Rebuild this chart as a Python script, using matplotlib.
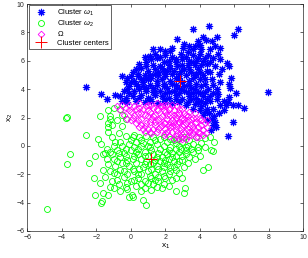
import matplotlib
matplotlib.use("Agg")
import numpy as np
import matplotlib.pyplot as plt

plt.rcParams['font.family'] = ['Liberation Sans', 'DejaVu Sans']
plt.rcParams['mathtext.fontset'] = 'custom'
plt.rcParams['mathtext.rm'] = 'Liberation Sans'
plt.rcParams['mathtext.it'] = 'Liberation Sans:italic'

# points
omega1 = [
    (-2.6, 4.15), (-1.7, 3.65), (-1.4, 3.3), (-0.9, 3.6), (-0.5, 4.9), (-0.6, 3.5), (-0.3, 3.4),
    (0.0, 4.5), (-0.2, 4.0), (0.2, 3.9), (0.8, 6.3), (1.1, 6.35), (1.3, 6.8), (1.7, 6.85),
    (2.7, 7.55), (3.6, 8.25), (4.55, 8.45), (6.2, 8.25), (6.0, 7.8), (4.2, 7.7), (4.35, 7.45),
    (3.4, 7.05), (3.05, 6.9), (3.75, 7.05), (4.0, 7.1), (4.9, 7.05), (5.2, 6.9), (4.6, 6.8),
    (5.05, 6.5), (5.15, 6.15), (5.6, 5.85), (5.7, 5.65), (5.8, 4.8), (5.7, 4.4), (5.75, 4.1),
    (6.1, 3.75), (5.7, 3.45), (5.65, 3.1), (5.55, 2.85), (5.95, 2.9), (6.25, 2.9), (6.6, 2.7),
    (7.95, 3.8), (5.95, 1.65), (5.65, 0.7),
    (5.0, 4.0), (5.05, 3.65), (5.2, 2.85), (5.4, 2.55), (4.85, 2.1), (4.9, 1.7), (4.75, 1.45),
    (4.65, 1.15), (4.55, 2.35), (4.4, 2.6), (4.3, 3.0), (4.6, 3.2), (5.0, 3.3), (4.8, 2.6),
    (4.95, 1.3), (4.45, 1.8), (4.2, 2.2), (4.1, 2.8), (3.9, 3.1), (3.7, 2.95), (4.75, 3.7),
    (4.5, 4.0), (4.3, 4.4), (4.7, 4.7), (5.1, 5.1), (5.3, 5.4), (4.9, 5.6), (4.6, 5.9),
    (4.3, 6.2), (4.0, 6.5), (3.8, 6.0), (4.1, 5.7), (4.4, 5.3),
    (1.5, 6.2), (2.0, 6.4), (2.4, 6.3), (2.9, 6.5), (3.3, 6.6), (3.6, 6.4), (1.9, 5.9),
    (0.5, 5.8), (0.9, 5.9), (1.3, 5.7), (1.7, 5.6), (2.2, 6.0), (2.6, 5.9), (3.0, 6.1),
    (3.4, 6.0), (3.7, 5.7), (0.3, 5.4),
    (0.1, 5.2), (0.6, 5.5), (1.0, 5.3), (1.4, 5.4), (1.9, 5.3), (2.3, 5.5), (2.7, 5.6),
    (3.1, 5.4), (3.5, 5.2), (3.9, 5.4), (4.2, 5.0),
    (-0.2, 4.8), (0.4, 4.9), (0.8, 5.0), (1.2, 4.8), (1.6, 5.0), (2.0, 4.9), (2.4, 5.1),
    (2.8, 4.8), (3.2, 5.0), (3.6, 4.8), (4.0, 4.7),
    (0.3, 4.4), (0.7, 4.5), (1.1, 4.3), (1.5, 4.6), (1.9, 4.4), (2.3, 4.6), (2.6, 4.3),
    (3.0, 4.5), (3.4, 4.3), (3.8, 4.4), (4.1, 4.2), (-0.1, 4.2),
    (0.5, 4.0), (0.9, 3.9), (1.3, 4.1), (1.7, 3.9), (2.1, 4.1), (2.5, 3.9), (2.9, 4.0),
    (3.3, 3.8), (3.7, 4.0), (4.0, 3.7), (-0.4, 3.9),
    (0.1, 3.5), (0.6, 3.6), (1.0, 3.4), (1.4, 3.6), (1.8, 3.5), (2.2, 3.4), (2.6, 3.6),
    (3.0, 3.3), (3.4, 3.5), (3.8, 3.4), (4.2, 3.5),
    (-0.2, 3.1), (0.3, 3.2), (0.8, 3.1), (1.2, 3.2), (1.6, 3.0), (2.0, 3.1), (2.4, 3.0),
    (2.8, 3.1), (3.2, 2.9), (3.6, 2.6), (4.0, 2.5),
    (1.0, 4.7), (1.8, 4.7), (2.6, 4.8), (3.4, 4.6), (2.2, 5.7), (2.9, 5.3), (3.3, 5.7),
    (1.6, 5.2), (0.7, 4.2), (2.4, 4.4), (3.1, 4.2), (3.5, 4.1), (1.3, 3.8), (2.0, 3.7),
    (2.8, 3.7), (3.6, 3.7), (1.5, 4.3), (0.2, 4.6), (2.0, 5.1), (3.8, 5.1), (4.3, 4.7),
    (0.4, 5.1), (0.9, 5.6), (1.2, 6.1), (1.7, 6.3), (2.3, 6.7), (2.6, 6.1), (3.2, 6.3),
    (3.5, 5.9), (3.9, 6.2), (4.2, 6.0), (4.4, 5.8), (4.5, 6.4), (4.8, 6.2), (3.0, 5.7),
    (2.5, 5.3), (1.8, 5.5), (1.1, 5.0), (0.6, 4.7), (0.0, 4.9), (-0.3, 4.5), (0.4, 4.2),
    (0.9, 4.1), (1.4, 3.9), (1.9, 4.2), (2.2, 3.8), (2.7, 4.1), (3.1, 3.9), (3.5, 3.3),
    (3.9, 3.8), (4.3, 3.8), (4.6, 3.5), (4.4, 3.3), (4.1, 3.2), (3.3, 3.1), (2.6, 3.3),
    (1.9, 3.3), (1.1, 3.3), (0.5, 3.4), (-0.1, 3.7), (-0.5, 3.2), (0.9, 4.8), (1.4, 5.1),
    (2.1, 5.3), (2.8, 5.1), (3.7, 5.0), (4.0, 5.2), (4.6, 5.2), (4.8, 4.3), (5.2, 4.5),
    (5.4, 3.2), (5.1, 2.3), (4.7, 1.9), (4.3, 2.4), (3.4, 5.4), (2.0, 6.7), (1.4, 6.5),
    (3.1, 7.2), (3.9, 7.4), (4.7, 7.4), (5.0, 7.7), (4.1, 6.8), (3.6, 6.8), (2.4, 6.9),
]

omega_band = [
    (-0.8, 2.8), (-0.6, 2.5), (-0.4, 2.2), (-0.3, 2.7), (-0.1, 2.9), (-0.2, 1.9), (0.0, 2.4),
    (0.1, 2.0), (0.2, 2.8), (0.3, 1.6), (0.4, 2.3), (0.5, 3.0), (0.5, 1.3), (0.6, 1.9),
    (0.7, 2.6), (0.8, 1.0), (0.8, 2.2), (0.9, 1.6), (1.0, 2.9), (1.0, 1.2), (1.1, 2.4),
    (1.2, 1.9), (1.2, 0.9), (1.3, 2.7), (1.4, 1.5), (1.4, 2.2), (1.5, 3.0), (1.5, 1.0),
    (1.6, 1.8), (1.6, 2.5), (1.7, 1.3), (1.8, 2.1), (1.8, 2.8), (1.9, 0.8), (1.9, 1.6),
    (2.0, 2.4), (2.0, 1.2), (2.1, 2.9), (2.1, 1.9), (2.2, 0.7), (2.2, 1.5), (2.3, 2.2),
    (2.3, 2.7), (2.4, 1.0), (2.4, 1.8), (2.5, 2.5), (2.5, 0.5), (2.6, 1.4), (2.6, 2.0),
    (2.7, 2.8), (2.7, 0.9), (2.8, 1.7), (2.8, 2.3), (2.9, 1.2), (2.9, 0.6), (3.0, 2.0),
    (3.0, 2.6), (3.1, 1.5), (3.1, 0.9), (3.2, 2.2), (3.2, 0.5), (3.3, 1.8), (3.3, 1.2),
    (3.4, 2.4), (3.5, 0.8), (3.5, 1.5), (3.6, 2.0), (3.7, 1.1), (3.7, 2.3), (3.8, 1.7),
    (3.8, 0.6), (3.9, 1.3), (4.0, 2.0), (4.0, 0.9), (4.1, 1.5), (4.2, 1.1), (4.3, 1.6),
    (4.35, 0.9), (4.4, 1.3), (3.9, 0.6),
    (0.3, 2.6), (0.6, 1.5), (0.9, 2.8), (1.1, 1.7), (1.3, 1.2), (1.5, 2.6), (1.7, 2.0),
    (1.9, 2.5), (2.1, 1.0), (2.3, 1.3), (2.5, 1.7), (2.7, 2.2), (2.9, 1.9), (3.1, 2.3),
    (3.4, 1.0), (3.6, 1.3), (2.0, 0.9), (1.0, 2.1), (0.4, 1.8), (-0.1, 2.5), (2.4, 2.9),
    (2.8, 0.5), (3.3, 0.7), (1.2, 2.9), (0.7, 1.2),
    (0.2, 2.2), (0.5, 2.7), (0.8, 1.4), (1.0, 2.5), (1.1, 1.0), (1.3, 2.1), (1.4, 1.7),
    (1.6, 1.2), (1.7, 2.8), (1.8, 1.5), (2.0, 1.6), (2.1, 2.2), (2.2, 2.6), (2.3, 1.7),
    (2.4, 1.4), (2.5, 2.2), (2.6, 1.1), (2.7, 1.6), (2.8, 2.6), (2.9, 0.9), (3.0, 1.4),
    (3.1, 1.9), (3.2, 1.6), (3.3, 2.1), (3.4, 1.3), (3.5, 1.9), (3.6, 0.9), (3.7, 1.6),
    (3.8, 2.0), (3.9, 1.0), (4.1, 1.8), (4.2, 0.8), (4.4, 1.8), (0.0, 1.8), (-0.5, 2.9),
    (0.6, 2.3), (1.9, 2.9), (2.6, 0.7), (3.0, 0.5),
]

omega2 = [
    (-4.85, -4.45), (-3.7, 2.05), (-3.75, 2.0), (-3.55, -0.6), (-3.7, -1.3), (-2.6, 0.75),
    (-2.1, -0.7), (-2.4, -1.2), (-2.15, -2.3), (-2.1, -3.5), (-1.65, -3.9), (-1.7, -4.0),
    (-1.3, -3.45), (-1.6, -3.3), (-1.9, 0.5), (-1.8, 2.1), (-1.6, -0.55), (-1.5, -0.5),
    (-1.3, 1.0), (-1.3, 1.3), (-1.3, 1.6), (-1.2, 1.9), (-1.3, 2.5), (-1.0, 2.65), (-1.2, 2.1),
    (-0.9, 0.3), (-0.6, 2.6), (-0.5, 2.2), (-0.3, 1.9), (-0.5, 1.4), (-1.1, 1.5),
    (4.2, -1.7), (4.5, -1.5), (4.8, -0.35), (4.65, -0.3), (4.85, 0.25), (4.6, 0.65),
    (4.3, 0.55), (4.1, 0.2), (3.9, -0.3), (3.1, -3.3), (3.15, -3.0), (2.95, -2.3),
    (2.6, -3.15), (0.7, -3.8), (0.9, -4.15), (-0.1, -3.6), (0.15, -3.6), (0.05, -3.5),
    (-0.2, -3.05), (1.2, -3.1), (1.5, -2.9), (1.9, -2.7), (2.2, -2.85), (1.8, -2.95),
    (-0.3, 0.7), (0.2, 0.8), (0.5, 0.6), (0.9, 0.7), (1.3, 0.6), (1.7, 0.5), (2.1, 0.3),
    (2.6, 0.2), (3.0, 0.3), (3.4, 0.4), (3.8, 0.6),
    (-1.0, 0.0), (-0.6, 0.3), (-0.1, 0.1), (0.3, 0.3), (0.7, 0.2), (1.1, 0.3), (1.5, 0.1),
    (1.9, 0.0), (2.3, -0.1), (2.8, 0.0), (3.2, -0.1), (3.6, 0.1),
    (-1.2, -0.4), (-0.8, -0.3), (-0.4, -0.5), (0.0, -0.3), (0.4, -0.2), (0.8, -0.4),
    (1.2, -0.3), (1.6, -0.5), (2.0, -0.4), (2.4, -0.5), (2.8, -0.4), (3.2, -0.6), (3.6, -0.4),
    (-1.0, -0.9), (-0.6, -0.8), (-0.2, -1.0), (0.2, -0.7), (0.6, -0.9), (1.0, -0.7),
    (1.4, -1.0), (1.8, -0.8), (2.2, -0.9), (2.6, -0.7), (3.0, -1.0), (3.4, -0.8),
    (-1.3, -1.3), (-0.9, -1.4), (-0.5, -1.2), (-0.1, -1.4), (0.3, -1.2), (0.7, -1.5),
    (1.1, -1.3), (1.5, -1.4), (1.9, -1.2), (2.3, -1.5), (2.7, -1.3), (3.1, -1.5),
    (-1.0, -1.9), (-0.6, -1.7), (-0.2, -2.0), (0.2, -1.8), (0.6, -2.0), (1.0, -1.8),
    (1.4, -2.0), (1.8, -1.8), (2.2, -2.0), (2.6, -1.7),
    (-1.5, -2.2), (-0.8, -2.4), (-0.4, -2.2), (0.0, -2.5), (0.4, -2.3), (0.8, -2.5),
    (1.2, -2.3), (1.6, -2.5), (2.0, -2.3), (2.4, -2.4),
    (-1.2, -2.9), (-0.7, -2.7), (-0.3, -2.9), (0.3, -2.8), (0.8, -3.0), (1.3, -2.7),
    (-0.6, -3.2), (-1.0, -3.0),
    (0.4, -0.6), (0.9, -1.1), (1.3, -0.6), (1.7, -1.1), (2.1, -0.6), (2.5, -1.1), (0.5, -1.6),
    (1.2, -1.6), (1.9, -1.5), (0.1, -0.9), (2.9, -0.2), (3.3, 0.0), (1.0, 0.0), (0.0, 0.4),
    (-0.5, 0.0), (2.5, 0.4), (1.6, -2.2), (0.6, -2.7), (2.8, -1.9), (3.3, -1.2), (3.7, -0.9),
    (3.9, -0.1), (-1.4, -0.9), (-1.6, -1.7), (-1.8, -2.6), (-0.4, -1.8),
    (0.1, 0.6), (0.6, 0.4), (1.4, 0.4), (1.9, 0.6), (2.3, 0.5), (2.7, 0.5), (3.1, 0.6),
    (3.5, -0.2), (3.0, -0.7), (2.6, -0.2), (2.2, -0.3), (1.7, -0.2), (1.1, -0.1), (0.6, 0.0),
    (0.2, -0.1), (-0.3, -0.2), (-0.7, -0.5), (-1.1, -0.6), (-0.3, -0.7), (0.3, -0.4),
    (0.8, -0.7), (1.5, -0.8), (2.0, -1.0), (2.4, -0.8), (2.8, -1.1), (3.2, -0.3),
    (-0.8, -1.1), (-0.3, -1.2), (0.1, -1.6), (0.8, -1.3), (1.3, -1.2), (1.6, -1.6),
    (2.1, -1.3), (2.5, -1.5), (-1.2, -1.8), (-0.8, -2.0), (0.4, -2.0), (1.1, -2.1),
    (1.9, -2.1), (2.3, -1.8), (-1.1, -2.5), (0.2, -2.4), (1.0, -2.6), (1.4, -2.4),
    (2.6, -2.3), (-0.2, -2.6), (0.6, -3.2), (-1.4, -0.2), (-1.7, 0.1), (-1.1, 0.6),
    (-0.7, 0.9), (-0.8, 1.8), (4.3, -0.1), (4.0, -0.7),
]

centers = [(2.85, 4.55), (1.15, -0.9)]

w1 = np.array(omega1)
band = np.array(omega_band)
w2 = np.array(omega2)
cen = np.array(centers)

fig = plt.figure(figsize=(3.08, 2.58), dpi=100)
ax = fig.add_axes([0.089, 0.105, 0.895, 0.879])

asterisk = (8, 2, 0)
ax.plot(w1[:, 0], w1[:, 1], linestyle='none', marker=asterisk, color='#0000ff',
        markersize=5.2, markeredgewidth=0.8, label=r'Cluster $\omega_1$')
ax.plot(w2[:, 0], w2[:, 1], linestyle='none', marker='o', markerfacecolor='none',
        markeredgecolor='#00ff00', markersize=4.3, markeredgewidth=0.6, label=r'Cluster $\omega_2$')
ax.plot(band[:, 0], band[:, 1], linestyle='none', marker='D', markerfacecolor='none',
        markeredgecolor='#ff00ff', markersize=3.4, markeredgewidth=0.6, label=r'$\Omega$')
ax.plot(cen[:, 0], cen[:, 1], linestyle='none', marker='+', color='#ff0000',
        markersize=8.5, markeredgewidth=0.7, label='Cluster centers')

ax.set_xlim(-6, 10)
ax.set_ylim(-6, 10)
ax.set_xticks(np.arange(-6, 11, 2))
ax.set_yticks(np.arange(-6, 11, 2))
ax.tick_params(direction='in', length=2, width=0.5, labelsize=5, top=True, right=True,
               colors='#262626', pad=2)
for s in ax.spines.values():
    s.set_linewidth(0.5)
    s.set_color('#262626')

ax.set_xlabel(r'x$_1$', fontsize=6, labelpad=1)
ax.set_ylabel(r'x$_2$', fontsize=6, labelpad=1)

leg = ax.legend(loc='upper left', fontsize=5.5, fancybox=False, framealpha=1,
                edgecolor='#262626', borderpad=0.3, labelspacing=0.1,
                handletextpad=0.8, borderaxespad=0.15, handlelength=2.6)
leg.get_frame().set_linewidth(0.5)

fig.savefig('out.png', dpi=100)
